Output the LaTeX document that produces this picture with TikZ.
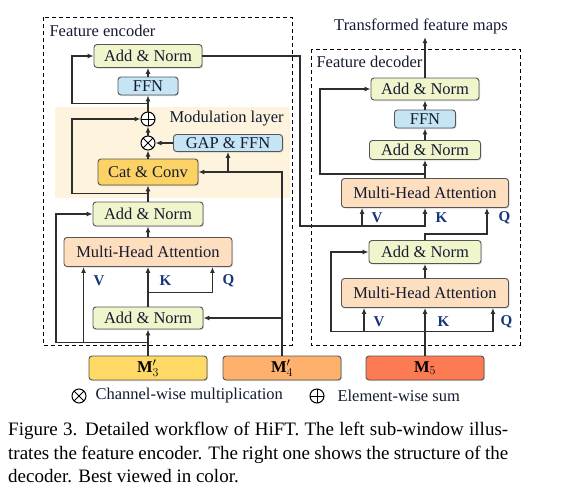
\documentclass[tikz,border=0pt]{standalone}
\usepackage{fontspec}
\setmainfont{Liberation Serif}
\usetikzlibrary{arrows.meta,calc,shadows}

\definecolor{anfill}{HTML}{F1F5CC}
\definecolor{ffnfill}{HTML}{C5E5F5}
\definecolor{mhafill}{HTML}{FDDFBF}
\definecolor{catfill}{HTML}{FDD264}
\definecolor{modbg}{HTML}{FEF4DE}
\definecolor{mthree}{HTML}{FFD966}
\definecolor{mfour}{HTML}{FDB16C}
\definecolor{mfive}{HTML}{FD7B52}
\definecolor{bordercol}{HTML}{555555}
\definecolor{linecol}{HTML}{2E2E2E}
\definecolor{txt}{HTML}{141B33}
\definecolor{qkvcol}{HTML}{17367A}

\begin{document}
\begin{tikzpicture}[
            x=1pt, y=-1pt,
            every node/.style = {font=\fontsize{16.5}{19}\selectfont, text=txt},
            block/.style = {shape=rectangle, rounded corners=3pt, draw=bordercol, line width=0.9pt, inner sep=0pt,
                            drop shadow={opacity=0.3, shadow xshift=1pt, shadow yshift=-1pt}},
            addnorm/.style = {block, fill=anfill, minimum width=110pt, minimum height=23pt},
            ffn/.style = {block, fill=ffnfill, minimum height=18pt},
            mha/.style = {block, fill=mhafill, minimum width=168pt, minimum height=29pt},
            fmap/.style = {block, text=black, minimum width=118pt, minimum height=24pt},
            op/.style = {circle, draw=black, line width=1pt, fill=white, minimum size=14pt, inner sep=0pt},
            oplus/.style = {op, path picture={\draw[line width=1pt] (path picture bounding box.north) -- (path picture bounding box.south)
                            (path picture bounding box.west) -- (path picture bounding box.east);}},
            otimes/.style = {op, path picture={\draw[line width=1pt] (path picture bounding box.north west) -- (path picture bounding box.south east)
                            (path picture bounding box.north east) -- (path picture bounding box.south west);}},
            link/.style = {draw=linecol, line width=1.3pt},
            arrow/.style = {link, -{Latex[length=6pt, width=5pt]}},
            qkv/.style = {font=\fontsize{15}{18}\selectfont\bfseries, text=qkvcol, anchor=west},
            window/.style = {draw, line width=1pt, dash pattern=on 4pt off 3pt},
            caption/.style = {font=\fontsize{19}{23.5}\selectfont, text=black, align=left, inner sep=0pt}
        ]
        \useasboundingbox (0,0) rectangle (566,491);

        % windows
        \fill[modbg] (55,107) rectangle (290,198);
        \draw[window] (43,17) rectangle (292,345);
        \draw[window] (311,49) rectangle (520,345);

        \node[anchor=west] (encTitle) at (46,31) {Feature encoder};
        \node[anchor=west] (decTitle) at (313,62) {Feature decoder};
        \node[anchor=west] (modTitle) at (166,119) {Modulation layer};
        \node (outText) at (421,26) {Transformed feature maps};

        % encoder
        \node[addnorm, minimum width=108pt] (eAN3) at (148,56) {Add \& Norm};
        \node[ffn, minimum width=60pt] (eFFN) at (148,86) {FFN};
        \node[oplus] (eSum) at (148,119) {};
        \node[otimes] (eMul) at (148,143) {};
        \node[ffn, minimum width=109pt, minimum height=17pt] (eGAP) at (228,143) {GAP \& FFN};
        \node[block, fill=catfill, minimum width=100pt, minimum height=26pt] (eCat) at (148,172) {Cat \& Conv};
        \node[addnorm, minimum height=24pt] (eAN2) at (148,214) {Add \& Norm};
        \node[mha] (eMHA) at (148,252) {Multi-Head Attention};
        \node[addnorm, minimum height=22pt] (eAN1) at (148,318) {Add \& Norm};

        \node[qkv] (eVl) at (90,281) {V};
        \node[qkv] (eKl) at (156,281) {K};
        \node[qkv] (eQl) at (219,281) {Q};

        % feature maps
        \node[fmap, fill=mthree] (m3) at (148,368) {\textbf{M}$'_3$};
        \node[fmap, fill=mfour] (m4) at (282,368) {\textbf{M}$'_4$};
        \node[fmap, fill=mfive] (m5) at (425,368) {\textbf{M}$_5$};

        % decoder
        \node[addnorm, minimum width=108pt, minimum height=22pt] (dAN3) at (425,89) {Add \& Norm};
        \node[ffn, minimum width=61pt] (dFFN) at (425,119) {FFN};
        \node[addnorm, minimum width=111pt, minimum height=19pt] (dAN2) at (425,150) {Add \& Norm};
        \node[mha, minimum width=167pt] (dMHA1) at (425,193) {Multi-Head Attention};
        \node[addnorm, minimum width=112pt] (dAN1) at (425,252) {Add \& Norm};
        \node[mha, minimum width=167pt] (dMHA2) at (425,293) {Multi-Head Attention};

        \node[qkv] (dVl1) at (368,218) {V};
        \node[qkv] (dKl1) at (432,218) {K};
        \node[qkv] (dQl1) at (495,218) {Q};
        \node[qkv] (dVl2) at (370,322) {V};
        \node[qkv] (dKl2) at (434,322) {K};
        \node[qkv] (dQl2) at (497,322) {Q};

        % legend
        \node[otimes] (legMul) at (79,396) {};
        \node[anchor=west] (legMulText) at (92,396) {Channel-wise multiplication};
        \node[oplus] (legSum) at (317,396) {};
        \node[anchor=west] (legSumText) at (334,396) {Element-wise sum};

        \node[caption, anchor=north west] (cap) at (8,422) {%
            \hbox to 500pt{Figure 3. Detailed workflow of HiFT. The left sub-window illus-}\\
            \hbox to 500pt{trates the feature encoder. The right one shows the structure of the}\\
            decoder. Best viewed in color.};

        % encoder links
        \coordinate (eIn) at ($(m3.north)!0.5!(eAN1.south)$);
        \coordinate (eV) at ([xshift=20pt]eMHA.south west);
        \coordinate (eQ) at ([xshift=-20pt]eMHA.south east);
        \draw[arrow] (m3.north) -- (eAN1.south);
        \draw[arrow] (eIn) -- ++(-92,0) |- (eAN2.west);
        \draw[arrow] (eIn -| eV) -- (eV);
        \draw[arrow] (eAN1.north) -- (eMHA.south);
        \draw[arrow] (eAN1.north) -- ++(0,-14) -| (eQ);
        \draw[arrow] (eMHA.north) -- (eAN2.south);
        \draw[arrow] (eAN2.north) -- (eCat.south);
        \coordinate (eSkip1) at ($(eAN2.north)!0.5!(eCat.south)$);
        \draw[arrow] (eSkip1) -- ++(-76,0) |- (eSum.west);
        \draw[arrow] (eCat.north) -- (eMul.south);
        \draw[arrow] (eGAP.west) -- (eMul.east);
        \draw[arrow] (eMul.north) -- (eSum.south);
        \draw[arrow] (eSum.north) -- (eFFN.south);
        \draw[arrow] (eFFN.north) -- (eAN3.south);
        \coordinate (eSkip2) at ($(eSum.north)!0.5!(eFFN.south)$);
        \draw[arrow] (eSkip2) -- ++(-76,0) |- (eAN3.west);
        \draw[arrow] (m4.north) |- (eCat.east);
        \draw[arrow] (m4.north |- eAN1.east) -- (eAN1.east);
        \draw[arrow] (eGAP.south |- eCat.east) -- (eGAP.south);

        % encoder to decoder
        \coordinate (eBend) at (300,226);
        \coordinate (dV1) at ([xshift=21pt]dMHA1.south west);
        \draw[arrow] (eAN3.east) -| (eBend) -- (eBend -| dMHA1.south) -- (dMHA1.south);
        \draw[arrow] (eBend -| dV1) -- (dV1);

        % decoder links
        \coordinate (dIn) at ($(m5.north)!0.5!(dMHA2.south)$);
        \coordinate (dV2) at ([xshift=23pt]dMHA2.south west);
        \coordinate (dQ2) at ([xshift=-16pt]dMHA2.south east);
        \coordinate (dQ1) at ([xshift=-22pt]dMHA1.south east);
        \draw[arrow] (m5.north) -- (dMHA2.south);
        \draw[arrow] (dIn) -- ++(-94,0) |- (dAN1.west);
        \draw[arrow] (dIn -| dV2) -- (dV2);
        \draw[arrow] (dIn) -| (dQ2);
        \draw[arrow] (dMHA2.north) -- (dAN1.south);
        \draw[arrow] (dAN1.north) -- ++(0,-6) -| (dQ1);
        \draw[arrow] (dMHA1.north) -- (dAN2.south);
        \draw[arrow] ([yshift=4pt]dMHA1.north) -- ++(-105,0) |- (dAN3.west);
        \draw[arrow] (dAN2.north) -- (dFFN.south);
        \draw[arrow] (dFFN.north) -- (dAN3.south);
        \draw[arrow] (dAN3.north) -- (dAN3.north |- outText.south);
    \end{tikzpicture}
\end{document}
